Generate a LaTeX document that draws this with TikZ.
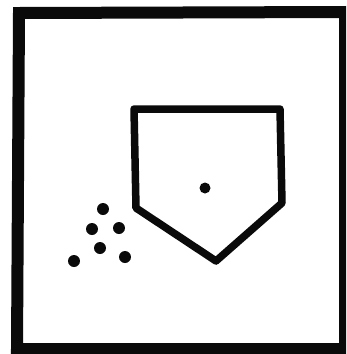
\documentclass[tikz,border=0pt]{standalone}
\usepackage{xcolor}
\usepackage{tikz}
\usetikzlibrary{calc}
\definecolor{myink}{RGB}{10,10,10}
\tikzset{
  frameline/.style={draw=myink, line width=12pt},
  plateline/.style={draw=myink, line width=7.5pt, line join=round},
  ball/.style={fill=myink}
}

\begin{document}
\begin{tikzpicture}[x=1pt, y=-1pt]
  % Page size and clipping
  \useasboundingbox (0,0) rectangle (346,354);
  \clip (0,0) rectangle (346,354);
  \fill[white] (0,0) rectangle (346,354);

  % Outer frame
  \draw[frameline] (19,13) -- (345,12) -- (345,349) -- (17,349) -- cycle;

  % Home plate
  \coordinate (tl) at (134,109);
  \coordinate (tr) at (280,109);
  \coordinate (rr) at (282,203);
  \coordinate (bt) at (216,261);
  \coordinate (ll) at (136,208);
  \draw[plateline] (tl) -- (tr) -- (rr) -- (bt) -- (ll) -- cycle;

  % Dot on the plate
  \fill[ball] (205,188) circle (5.5pt);

  % Group of dots
  \foreach \px/\py in {103/209, 92/229, 119/228, 100/248, 74/261, 125/257}
    \fill[ball] (\px,\py) circle (6pt);
\end{tikzpicture}
\end{document}
